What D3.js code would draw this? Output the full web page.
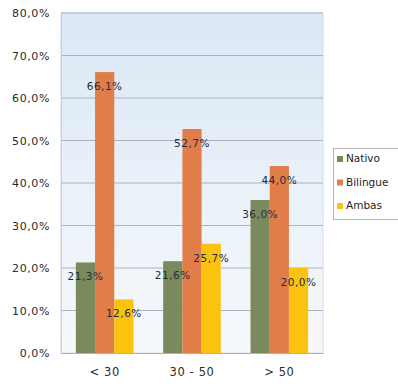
<!DOCTYPE html>
<html>
<head>
<meta charset="utf-8">
<script src="https://cdn.jsdelivr.net/npm/d3@7"></script>
<style>
    body { margin: 0; background: #fff; }
    svg text { font-family: "DejaVu Sans", sans-serif; }
</style>
</head>
<body>
<svg id="chart" width="398" height="384"></svg>
<script>
const categories = ["< 30", "30 - 50", "> 50"];
const series = ["Nativo", "Bilingue", "Ambas"];
const nativo = [21.3, 21.6, 36.0];
const bilingue = [66.1, 52.7, 44.0];
const ambas = [12.6, 25.7, 20.0];
const y_ticks = [0, 10, 20, 30, 40, 50, 60, 70, 80];
const colors = ["#7b8a5c", "#e07d48", "#fbc210"];

const values = [nativo, bilingue, ambas];
const svg = d3.select("#chart");

const plot_left = 61, plot_right = 323, plot_top = 13, plot_bottom = 353;

const defs = svg.append("defs");
const grad = defs.append("linearGradient")
    .attr("id", "bg")
    .attr("x1", 0).attr("y1", 0).attr("x2", 0).attr("y2", 1);
grad.append("stop").attr("offset", "0%").attr("stop-color", "#dbe8f5");
grad.append("stop").attr("offset", "100%").attr("stop-color", "#f6f9fc");

const x0 = d3.scaleBand()
    .domain(categories)
    .range([plot_left, plot_right])
    .paddingInner(0.34)
    .paddingOuter(0.17);

const x1 = d3.scaleBand()
    .domain(series)
    .range([0, x0.bandwidth()]);

const y = d3.scaleLinear()
    .domain([0, 80])
    .range([plot_bottom, plot_top]);

const fmt = v => d3.format(".1f")(v).replace(".", ",") + "%";

// plot background
svg.append("rect")
    .attr("x", plot_left).attr("y", plot_top)
    .attr("width", plot_right - plot_left).attr("height", plot_bottom - plot_top)
    .attr("fill", "url(#bg)")
    .attr("stroke", "#d3dae2");

// gridlines
svg.append("g")
    .selectAll("line")
    .data(y_ticks.slice(1))
    .enter()
    .append("line")
    .attr("x1", plot_left).attr("x2", plot_right)
    .attr("y1", d => y(d)).attr("y2", d => y(d))
    .attr("stroke", "#a9b3be")
    .attr("stroke-width", 1);

// y axis
const y_axis = svg.append("g")
    .attr("transform", `translate(${plot_left},0)`)
    .call(d3.axisLeft(y).tickValues(y_ticks).tickSize(0).tickPadding(11).tickFormat(fmt));
y_axis.select(".domain").attr("stroke", "#c8cfd6");
y_axis.selectAll("text")
    .attr("font-size", 11)
    .attr("letter-spacing", 0.6)
    .attr("fill", "#2a2a2a");

// x axis
const x_axis = svg.append("g")
    .attr("transform", `translate(0,${plot_bottom})`)
    .call(d3.axisBottom(x0).tickSize(0).tickPadding(15));
x_axis.select(".domain").attr("stroke", "#a9b3be");
x_axis.selectAll("text")
    .attr("font-size", 11.5)
    .attr("letter-spacing", 0.6)
    .attr("fill", "#2a2a2a")
    .attr("font-family", "DejaVu Sans");

// bars
const rows = [];
categories.forEach((c, i) => {
    series.forEach((s, j) => {
        rows.push({ cat: c, ser: s, value: values[j][i], color: colors[j] });
    });
});

const bars = svg.append("g");
bars.selectAll("rect")
    .data(rows)
    .enter()
    .append("rect")
    .attr("x", d => x0(d.cat) + x1(d.ser))
    .attr("y", d => y(d.value))
    .attr("width", x1.bandwidth())
    .attr("height", d => y(0) - y(d.value))
    .attr("fill", d => d.color);

bars.selectAll("text")
    .data(rows)
    .enter()
    .append("text")
    .attr("x", d => x0(d.cat) + x1(d.ser) + x1.bandwidth() / 2)
    .attr("y", d => y(d.value) + 18)
    .attr("text-anchor", "middle")
    .attr("font-size", 10.5)
    .attr("letter-spacing", 0.5)
    .attr("fill", "#262a40")
    .text(d => fmt(d.value));

// legend
const legend = svg.append("g").attr("transform", "translate(333,148)");
legend.append("rect")
    .attr("x", 0.5).attr("y", 0.5)
    .attr("width", 70).attr("height", 71)
    .attr("fill", "#fff")
    .attr("stroke", "#b5b5b5");

const items = legend.selectAll("g.item")
    .data(series)
    .enter()
    .append("g")
    .attr("class", "item")
    .attr("transform", (d, i) => `translate(4,${14 + i * 23.5})`);
items.append("rect")
    .attr("x", 0).attr("y", -6)
    .attr("width", 6).attr("height", 6)
    .attr("fill", (d, i) => colors[i]);
items.append("text")
    .attr("x", 9).attr("y", 0)
    .attr("font-size", 10.5)
    .attr("fill", "#1e1e1e")
    .text(d => d);
</script>
</body>
</html>
